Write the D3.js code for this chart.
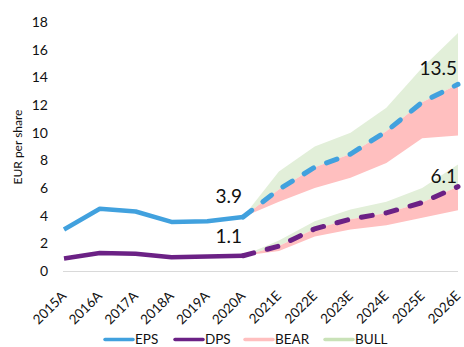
<!DOCTYPE html>
<html>
<head>
<meta charset="utf-8">
<script src="https://cdn.jsdelivr.net/npm/d3@7"></script>
<style>
  html, body { margin: 0; padding: 0; background: #fff; }
  svg { display: block; font-family: Lato, "Open Sans", sans-serif; }
</style>
</head>
<body>
<svg id="chart" width="464" height="347"></svg>
<script>
// Years: actuals then estimates
const years = ["2015A","2016A","2017A","2018A","2019A","2020A","2021E","2022E","2023E","2024E","2025E","2026E"];
const actualYears = years.slice(0, 6);
const forecastYears = years.slice(5);

// Historical earnings and dividends per share (EUR)
const epsActual = [3.0, 4.5, 4.3, 3.55, 3.6, 3.9];
const dpsActual = [0.9, 1.3, 1.25, 1.0, 1.05, 1.1];

// Base case estimates from 2020A onwards
const epsBase = [3.9, 5.9, 7.5, 8.45, 10.1, 12.2, 13.5];
const dpsBase = [1.1, 1.8, 3.05, 3.75, 4.2, 4.95, 6.1];

// Scenario ranges
const epsBull = [3.9, 7.2, 9.0, 10.0, 11.8, 14.7, 17.2];
const epsBear = [3.9, 5.0, 6.0, 6.75, 7.8, 9.6, 9.8];
const dpsBull = [1.1, 2.2, 3.6, 4.45, 5.0, 6.0, 7.7];
const dpsBear = [1.1, 1.45, 2.5, 3.0, 3.3, 3.85, 4.4];

const yTicks = [0, 2, 4, 6, 8, 10, 12, 14, 16, 18];
const legendItems = ["EPS", "DPS", "BEAR", "BULL"];

const colors = {
  EPS: "#41A1DE",
  DPS: "#6B2185",
  BEAR: "#FFBFBF",
  BULL: "#E2EFD9",
  BULLKEY: "#C9E2B8"
};

const svg = d3.select("#chart");

const x = d3.scalePoint().domain(years).range([64, 458]);
const y = d3.scaleLinear().domain([0, 18]).range([271, 22]);

// Baseline
svg.append("line")
  .attr("x1", 63).attr("x2", 458)
  .attr("y1", y(0) + 0.5).attr("y2", y(0) + 0.5)
  .attr("stroke", "#D9D9D9").attr("stroke-width", 1.2);

// Y axis labels
const yAxis = d3.axisLeft(y).tickValues(yTicks).tickSize(0).tickPadding(0);
svg.append("g")
  .attr("transform", "translate(48,0)")
  .call(yAxis)
  .call(g => g.select(".domain").remove())
  .call(g => g.selectAll("text")
    .attr("font-size", 14).attr("fill", "#111")
    .attr("font-family", "Lato, 'Open Sans', sans-serif"));

svg.append("text")
  .attr("transform", "translate(22,147) rotate(-90)")
  .attr("text-anchor", "middle")
  .attr("font-size", 12)
  .attr("fill", "#111")
  .text("EUR per share");

// X axis labels, rotated
const xAxis = d3.axisBottom(x).tickSize(0).tickPadding(0);
svg.append("g")
  .attr("transform", "translate(0,291)")
  .call(xAxis)
  .call(g => g.select(".domain").remove())
  .call(g => g.selectAll("text")
    .attr("font-size", 13.5).attr("fill", "#111")
    .attr("font-family", "Lato, 'Open Sans', sans-serif")
    .attr("text-anchor", "end")
    .attr("dy", "0.6em")
    .attr("transform", "translate(-3,0) rotate(-45)"));

// Scenario bands
const band = (lo, hi) => d3.area()
  .x((d, i) => x(forecastYears[i]))
  .y0((d, i) => y(lo[i]))
  .y1((d, i) => y(hi[i]));

function drawBands(base, bull, bear) {
  svg.append("path").datum(base).attr("d", band(base, bull)).attr("fill", colors.BULL);
  svg.append("path").datum(base).attr("d", band(bear, base)).attr("fill", colors.BEAR);
}
drawBands(epsBase, epsBull, epsBear);
drawBands(dpsBase, dpsBull, dpsBear);

// Lines
const lineOf = (cats) => d3.line().x((d, i) => x(cats[i])).y(d => y(d));

function drawSeries(actual, base, color) {
  svg.append("path").datum(actual)
    .attr("d", lineOf(actualYears))
    .attr("fill", "none").attr("stroke", color)
    .attr("stroke-width", 4.5).attr("stroke-linejoin", "round");
  svg.append("path").datum(base)
    .attr("d", lineOf(forecastYears))
    .attr("fill", "none").attr("stroke", color)
    .attr("stroke-width", 5).attr("stroke-linecap", "round")
    .attr("stroke-dasharray", "11,14");
}
drawSeries(epsActual, epsBase, colors.EPS);
drawSeries(dpsActual, dpsBase, colors.DPS);

// Value labels
function valueLabel(cat, v, dy) {
  svg.append("text")
    .attr("x", x(cat) - 1)
    .attr("y", y(v) + dy)
    .attr("text-anchor", "end")
    .attr("font-size", 19)
    .attr("fill", "#111")
    .text(v.toFixed(1));
}
valueLabel("2020A", epsActual[5], -14);
valueLabel("2020A", dpsActual[5], -13);
valueLabel("2026E", epsBase[6], -9);
valueLabel("2026E", dpsBase[6], -4);

// Legend
const legendX = [105, 175, 245, 325];
const lg = svg.append("g");
legendItems.forEach((name, i) => {
  const key = name === "BULL" ? colors.BULLKEY : colors[name];
  lg.append("line")
    .attr("x1", legendX[i]).attr("x2", legendX[i] + 28)
    .attr("y1", 339.5).attr("y2", 339.5)
    .attr("stroke", key).attr("stroke-width", 3.5).attr("stroke-linecap", "round");
  lg.append("text")
    .attr("x", legendX[i] + 30).attr("y", 344)
    .attr("font-size", 13.5).attr("fill", "#111")
    .text(name);
});
</script>
</body>
</html>
